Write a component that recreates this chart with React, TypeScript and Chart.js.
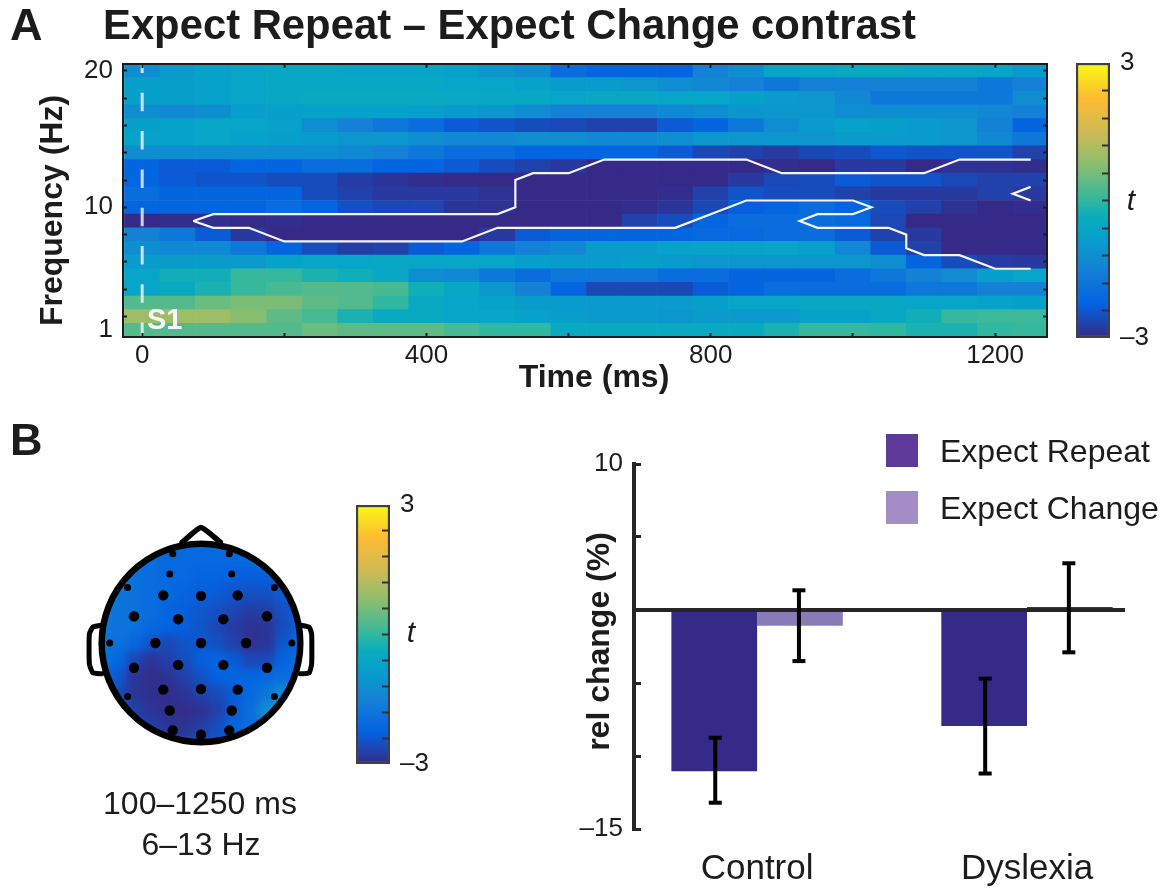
import React, { useEffect, useRef } from "react";
import { Chart, registerables } from "chart.js";

Chart.register(...registerables);

// ---------- Panel A data ----------
const timeBins = [0, 50, 100, 150, 200, 250, 300, 350, 400, 450, 500, 550, 600, 650, 700, 750, 800, 850, 900, 950, 1000, 1050, 1100, 1150, 1200, 1250];
const hz20 = [-1.2, -0.9, -0.75, -0.65, -0.55, -0.55, -0.65, -0.65, -0.65, -0.75, -1.0, -1.2, -2.0, -2.2, -2.2, -2.2, -1.5, -1.2, -0.65, -0.55, -0.45, -0.45, -0.55, -0.55, -0.65, -0.9];
const hz19 = [-0.8, -0.8, -0.75, -0.65, -0.55, -0.55, -0.55, -0.55, -0.55, -0.65, -0.65, -0.75, -0.9, -0.9, -1.0, -1.2, -1.35, -1.5, -1.75, -1.5, -1.5, -1.5, -1.5, -1.5, -1.75, -1.5];
const hz18 = [-0.8, -0.8, -0.75, -0.65, -0.55, -0.45, -0.45, -0.45, -0.45, -0.45, -0.55, -0.55, -0.65, -0.55, -0.55, -0.65, -0.65, -0.8, -0.9, -1.0, -1.35, -1.75, -1.75, -1.75, -1.75, -1.2];
const hz17 = [-1.2, -1.35, -1.2, -0.8, -0.8, -0.75, -0.75, -0.75, -0.8, -0.9, -1.0, -1.2, -1.5, -1.5, -1.5, -1.35, -1.2, -1.0, -1.0, -1.0, -1.2, -1.2, -1.2, -1.2, -1.35, -1.5];
const hz16 = [-0.8, -0.75, -0.65, -0.65, -0.75, -1.2, -1.5, -1.75, -2.0, -2.35, -2.45, -2.55, -2.6, -2.7, -2.7, -2.35, -2.2, -1.75, -1.2, -0.9, -0.75, -0.8, -0.9, -1.0, -1.5, -2.2];
const hz15 = [-0.75, -0.75, -0.65, -0.75, -0.8, -0.9, -1.0, -1.0, -1.2, -1.35, -1.35, -1.2, -1.2, -1.35, -1.35, -1.2, -1.0, -1.0, -1.0, -1.0, -0.9, -0.9, -0.9, -1.0, -1.35, -1.75];
const hz14 = [-1.2, -1.2, -1.2, -1.2, -1.2, -1.2, -1.35, -1.5, -1.75, -2.0, -2.0, -2.2, -2.2, -2.2, -2.2, -2.35, -2.6, -2.7, -2.8, -2.6, -2.55, -2.4, -2.45, -2.45, -2.45, -2.7];
const hz13 = [-2.2, -2.35, -2.35, -2.2, -2.2, -2.0, -2.0, -2.2, -2.2, -2.35, -2.55, -2.7, -2.8, -3, -3, -3, -3, -3, -2.95, -3, -2.8, -2.8, -3, -2.9, -2.9, -2.95];
const hz12 = [-2.2, -2.35, -2.45, -2.45, -2.55, -2.55, -2.75, -2.85, -2.95, -3, -3, -3, -3, -3, -3, -3, -3, -2.8, -2.6, -2.55, -2.35, -2.45, -2.45, -2.6, -2.7, -2.7];
const hz11 = [-2.0, -2.2, -2.2, -2.2, -2.2, -2.55, -2.7, -2.8, -2.8, -2.8, -2.9, -3, -3, -3, -3, -2.95, -2.7, -2.45, -2.55, -2.55, -2.7, -2.8, -2.8, -2.8, -2.7, -2.8];
const hz10 = [-2.2, -2.2, -2.2, -2.2, -2.0, -2.2, -2.5, -2.6, -2.65, -2.85, -2.9, -3, -3, -3, -2.95, -2.85, -2.6, -2.3, -2.2, -2.0, -2.2, -2.55, -2.7, -2.9, -3, -2.95];
const hz9 = [-3, -2.95, -2.95, -3, -2.95, -3, -3, -3, -3, -3, -3, -3, -3, -3, -2.7, -2.55, -2.2, -2.0, -2.0, -2.0, -2.1, -2.6, -3, -3, -3, -3];
const hz8 = [-1.5, -1.75, -2.35, -2.8, -3, -3, -3, -3, -3, -3, -2.8, -2.35, -2.2, -2.2, -2.2, -2.2, -2.1, -2.1, -2.0, -2.0, -2.35, -2.7, -2.8, -3, -3, -3];
const hz7 = [-1.2, -1.35, -1.35, -1.75, -2.2, -2.55, -2.75, -2.7, -2.35, -2.2, -1.75, -1.5, -1.35, -0.9, -0.9, -0.75, -0.7, -0.7, -0.65, -0.8, -1.35, -2.35, -2.7, -3, -3, -3];
const hz6 = [-0.9, -0.9, -0.9, -0.9, -0.75, -0.65, -0.65, -0.55, -0.65, -0.65, -0.65, -0.8, -0.9, -0.9, -0.8, -0.9, -1.0, -1.0, -1.0, -1.0, -1.0, -1.2, -2.2, -2.55, -2.75, -2.8];
const hz5 = [-0.65, -0.3, -0.3, 0.05, 0.05, -0.2, -0.3, -0.55, -1.2, -1.35, -1.75, -2.0, -1.75, -1.75, -1.75, -2.0, -2.0, -2.2, -2.2, -2.2, -2.0, -1.75, -1.5, -1.2, -0.8, -0.65];
const hz4 = [-0.65, -0.45, -0.2, 0.05, 0.2, 0.3, 0.3, 0.2, -0.3, -0.55, -1.0, -1.5, -2.2, -2.6, -2.6, -2.6, -2.35, -2.2, -2.0, -2.0, -2.0, -2.0, -1.75, -1.75, -1.5, -1.5];
const hz3 = [0.3, 0.3, 0.5, 0.65, 0.65, 0.4, 0.3, 0, -0.45, -0.65, -0.75, -0.9, -0.9, -0.9, -0.9, -0.9, -0.8, -0.65, -0.65, -0.55, -0.55, -0.55, -0.65, -0.65, -0.75, -0.8];
const hz2 = [1.0, 1.0, 1.0, 0.75, 0.4, 0.2, -0.2, -0.45, -0.45, -0.65, -0.65, -0.75, -0.8, -0.9, -0.9, -1.0, -0.9, -0.9, -0.9, -0.75, -0.75, -0.55, -0.3, 0.05, 0.1, 0.1];
const hz1 = [0.3, 0.3, 0.3, 0.3, 0.3, 0.5, 0.4, 0.4, 0.4, 0.2, 0, 0, -0.45, -0.45, -0.45, -0.45, -0.45, -0.45, -0.2, 0.05, 0.05, 0, -0.2, -0.2, 0, 0.05];
const heatRows = [hz1, hz2, hz3, hz4, hz5, hz6, hz7, hz8, hz9, hz10, hz11, hz12, hz13, hz14, hz15, hz16, hz17, hz18, hz19, hz20];

const contourUpperT = [72, 100, 500, 525, 525, 550, 600, 650, 850, 900, 1100, 1150, 1250];
const contourUpperF = [9, 9.5, 9.5, 10, 12, 12.5, 12.5, 13.5, 13.5, 12.5, 12.5, 13.5, 13.5];
const contourLowerT = [72, 100, 150, 200, 450, 500, 750, 850, 1000, 1026, 1000, 950, 925, 950, 1050, 1075, 1075, 1100, 1150, 1200, 1250];
const contourLowerF = [9, 8.5, 8.5, 7.5, 7.5, 8.5, 8.5, 10.5, 10.5, 10, 9.5, 9.5, 9, 8.5, 8.5, 8, 7, 6.5, 6.5, 5.5, 5.5];
const contourSmallT = [1250, 1225, 1250];
const contourSmallF = [11.5, 11, 10.5];

const timeTicks = [0, 200, 400, 600, 800, 1000, 1200];
const timeLabels = [0, 400, 800, 1200];
const freqTicks = [1, 2, 4, 6, 8, 10, 12, 14, 16, 18, 20];
const freqLabels = [1, 10, 20];
const barTicks = [-3, -2.4, -1.8, -1.2, -0.6, 0, 0.6, 1.2, 1.8, 2.4, 3];

// ---------- Panel B topography data ----------
const topoAxis = [-1, -0.833, -0.667, -0.5, -0.333, -0.167, 0, 0.167, 0.333, 0.5, 0.667, 0.833, 1];
const topoY1 = [-2.1, -2.1, -2.1, -2.1, -2.1, -2.1, -2.1, -2.1, -2.1, -2.1, -2.1, -2.1, -2.1];
const topoY2 = [-2.0, -2.0, -2.0, -2.0, -2.1, -2.1, -2.1, -2.1, -2.1, -2.1, -2.1, -2.1, -2.1];
const topoY3 = [-1.9, -1.9, -1.9, -2.0, -2.1, -2.1, -2.2, -2.2, -2.3, -2.3, -2.3, -2.2, -2.1];
const topoY4 = [-1.8, -1.8, -1.9, -2.0, -2.1, -2.2, -2.3, -2.35, -2.45, -2.5, -2.5, -2.35, -2.2];
const topoY5 = [-1.8, -1.8, -1.9, -2.0, -2.2, -2.3, -2.4, -2.5, -2.65, -2.75, -2.7, -2.5, -2.2];
const topoY6 = [-1.8, -1.8, -1.9, -2.1, -2.25, -2.3, -2.45, -2.6, -2.75, -2.9, -2.85, -2.55, -2.2];
const topoY7 = [-1.8, -1.9, -2.15, -2.45, -2.6, -2.45, -2.4, -2.5, -2.7, -2.9, -2.85, -2.4, -2.1];
const topoY8 = [-1.9, -2.15, -2.6, -2.85, -2.7, -2.55, -2.3, -2.2, -2.35, -2.6, -2.6, -2.2, -2.0];
const topoY9 = [-2.0, -2.4, -2.85, -2.95, -2.9, -2.7, -2.5, -2.25, -2.2, -2.2, -2.1, -2.0, -1.9];
const topoY10 = [-2.1, -2.55, -2.85, -2.95, -2.95, -2.85, -2.7, -2.55, -2.35, -2.1, -1.8, -1.3, -1.2];
const topoY11 = [-2.2, -2.55, -2.7, -2.85, -2.95, -2.95, -2.9, -2.7, -2.35, -2.0, -1.2, -0.8, -0.8];
const topoY12 = [-2.2, -2.4, -2.6, -2.75, -2.85, -2.9, -2.75, -2.55, -2.2, -2.0, -1.5, -1.0, -1.0];
const topoY13 = [-2.2, -2.35, -2.5, -2.6, -2.7, -2.7, -2.6, -2.4, -2.2, -2.0, -1.8, -1.5, -1.4];
const topoRows = [topoY1, topoY2, topoY3, topoY4, topoY5, topoY6, topoY7, topoY8, topoY9, topoY10, topoY11, topoY12, topoY13];

const electrodesLargeX = [-0.38, 0, 0.37, -0.675, -0.23, 0.225, 0.665, -0.46, 0, 0.455, -0.675, -0.23, 0.225, 0.665, -0.38, 0, 0.37, -0.315, 0.31, -0.285, 0, 0.285];
const electrodesLargeY = [0.48, 0.475, 0.48, 0.27, 0.24, 0.24, 0.27, 0, 0, 0, -0.25, -0.22, -0.22, -0.25, -0.47, -0.465, -0.47, -0.68, -0.68, -0.88, -0.925, -0.88];
const electrodesSmallX = [-0.285, 0.285, -0.315, 0.31, -0.74, 0.74, -0.92, 0.915, -0.74, 0.74];
const electrodesSmallY = [0.9, 0.9, 0.695, 0.695, 0.56, 0.56, 0, 0, -0.54, -0.54];
const noseX = [-0.19, 0, 0.195];
const noseY = [1.015, 1.165, 1.015];
const earLeftX = [-1.0, -1.09, -1.125, -1.125, -1.09, -1.0];
const earRightX = [1.0, 1.09, 1.115, 1.115, 1.09, 1.0];
const earY = [0.18, 0.16, 0.09, -0.21, -0.3, -0.31];

// ---------- Panel B bars data ----------
const groups = ["Control", "Dyslexia"];
const groupPositions = [1, 2];
const expectRepeat = [-11.05, -7.95];
const expectChange = [-1.08, 0.2];
const repeatErrLow = [-13.2, -11.2];
const repeatErrHigh = [-8.75, -4.7];
const changeErrLow = [-3.5, -2.9];
const changeErrHigh = [1.35, 3.2];
const relTicks = [-15, -10, -5, 0, 5, 10];
const relLabels = [-15, 10];

// ---------- Styling ----------
const FONT = "'Liberation Sans', Arial, sans-serif";
const INK = "#1c1c1c";
const PARULA: number[][] = [
  [0, 53, 42, 135], [0.125, 3, 99, 225], [0.25, 20, 129, 214], [0.375, 6, 162, 202], [0.44, 10, 172, 190],
  [0.5, 48, 184, 160], [0.625, 135, 190, 112], [0.75, 208, 186, 85], [0.875, 253, 188, 48], [1, 249, 251, 21],
];

function tColor(t: number) {
  const f = Math.max(0, Math.min(1, (t + 3) / 6));
  for (let i = 1; i < PARULA.length; i++) {
    if (f <= PARULA[i][0]) {
      const a = PARULA[i - 1], b = PARULA[i];
      const k = (f - a[0]) / (b[0] - a[0]);
      return `rgb(${a[1] + (b[1] - a[1]) * k},${a[2] + (b[2] - a[2]) * k},${a[3] + (b[3] - a[3]) * k})`;
    }
  }
  return "rgb(249,251,21)";
}

function zip(xs: number[], ys: number[]) {
  return xs.map((x, i) => ({ x, y: ys[i] }));
}

function setTicks(values: number[]) {
  return (axis: any) => {
    axis.ticks = values.map((value) => ({ value }));
  };
}

function fixSize(size: number, dx = 0, dy = 0) {
  return (scale: any) => {
    if (scale.isHorizontal()) scale.height = size;
    else scale.width = size;
    scale.paddingTop = scale.paddingBottom = scale.paddingLeft = scale.paddingRight = 0;
    if ((dx || dy) && !scale._shifted) {
      scale._shifted = true;
      const orig = scale.drawTitle.bind(scale);
      scale.drawTitle = () => {
        scale.ctx.save();
        scale.ctx.translate(dx, dy);
        orig();
        scale.ctx.restore();
      };
    }
  };
}

function colorbarConfig(topPad: number): any {
  return {
    type: "bar",
    data: {
      labels: ["t"],
      datasets: [
        {
          data: [[-3, 3]],
          barPercentage: 1,
          categoryPercentage: 1,
          borderSkipped: false,
          borderWidth: 2.5,
          borderColor: "#404040",
          backgroundColor: (c: any) => {
            const area = c.chart.chartArea;
            if (!area) return "#888";
            const g = c.chart.ctx.createLinearGradient(0, area.bottom, 0, area.top);
            PARULA.forEach((s) => g.addColorStop(s[0], `rgb(${s[1]},${s[2]},${s[3]})`));
            return g;
          },
        },
      ],
    },
    options: {
      responsive: false,
      animation: false,
      events: [],
      layout: { autoPadding: false, padding: { left: 0, top: topPad, bottom: topPad, right: 0 } },
      plugins: { legend: { display: false }, title: { display: false }, tooltip: { enabled: false } },
      scales: {
        x: { display: false },
        y: {
          position: "right",
          min: -3,
          max: 3,
          afterBuildTicks: setTicks(barTicks),
          afterFit: fixSize(50),
          border: { display: false },
          grid: {
            drawOnChartArea: false,
            tickLength: -8,
            tickWidth: 2,
            tickColor: (c: any) => (c.tick && Math.abs(c.tick.value) === 3 ? "rgba(0,0,0,0)" : "#333"),
            z: 1,
          },
          ticks: {
            padding: 18,
            color: INK,
            font: { family: FONT, size: 26 },
            autoSkip: false,
            maxRotation: 0,
            callback: (v: number) => (Math.abs(v - 3) < 1e-6 ? "3" : Math.abs(v + 3) < 1e-6 ? "–3" : ""),
          },
        },
      },
    },
  };
}

function heatConfig(): any {
  const cells: any[] = heatRows.map((row, r) => ({
    type: "bar",
    order: 2,
    grouped: false,
    barPercentage: 1,
    categoryPercentage: 1,
    borderWidth: 0,
    data: row.map((_, i) => ({ x: timeBins[i], y: [r + 0.5, r + 1.5] })),
    backgroundColor: row.map((v) => tColor(v)),
  }));
  const line = (xs: number[], ys: number[]) => ({
    type: "line",
    order: 1,
    data: zip(xs, ys),
    borderColor: "#f4f6fb",
    borderWidth: 2.2,
    pointRadius: 0,
    tension: 0,
    fill: false,
  });
  return {
    type: "bar",
    data: {
      datasets: [
        ...cells,
        line(contourUpperT, contourUpperF),
        line(contourLowerT, contourLowerF),
        line(contourSmallT, contourSmallF),
        {
          type: "line",
          order: 0,
          data: [{ x: 0, y: 20.5 }, { x: 0, y: 0.5 }],
          borderColor: "rgba(235,240,245,0.85)",
          borderWidth: 3,
          borderDash: [18.5, 19.8],
          borderDashOffset: 9.5,
          pointRadius: 0,
        },
      ],
    },
    plugins: [
      {
        id: "titlePlace",
        afterLayout(chart: any) {
          chart.titleBlock.left = 103;
        },
      },
    ],
    options: {
      responsive: false,
      animation: false,
      events: [],
      layout: { autoPadding: false, padding: { left: 0, right: 128, top: 0, bottom: 0 } },
      plugins: {
        legend: { display: false },
        tooltip: { enabled: false },
        title: {
          display: true,
          text: "Expect Repeat – Expect Change contrast",
          align: "start",
          color: INK,
          font: { family: FONT, size: 41.8, weight: "bold", lineHeight: 1 },
          padding: { top: 7, bottom: 15.2 },
        },
      },
      scales: {
        x: {
          type: "linear",
          offset: false,
          min: -27,
          max: 1273,
          afterBuildTicks: setTicks(timeTicks),
          afterFit: fixSize(60, 9, 0),
          border: { color: INK, width: 2, z: 2 },
          grid: { offset: false, drawOnChartArea: false, tickLength: -4, tickWidth: 2, tickColor: INK, z: 1 },
          ticks: {
            padding: 7,
            color: INK,
            font: { family: FONT, size: 26 },
            autoSkip: false,
            maxRotation: 0,
            callback: (v: number) => (timeLabels.includes(v) ? String(v) : ""),
          },
          title: {
            display: true,
            text: "Time (ms)",
            color: INK,
            font: { family: FONT, size: 32, weight: "bold", lineHeight: 1 },
            padding: { top: 0, bottom: 3 },
          },
        },
        xTop: {
          type: "linear",
          position: "top",
          offset: false,
          min: -27,
          max: 1273,
          afterBuildTicks: setTicks(timeTicks),
          afterFit: fixSize(0),
          border: { color: INK, width: 2, z: 2 },
          grid: { offset: false, drawOnChartArea: false, tickLength: -4, tickWidth: 2, tickColor: INK, z: 1 },
          ticks: { display: false },
        },
        y: {
          type: "linear",
          min: 0.5,
          max: 20.5,
          afterBuildTicks: setTicks(freqTicks),
          afterFit: fixSize(123, 0, 10),
          border: { color: INK, width: 2, z: 2 },
          grid: {
            drawOnChartArea: false,
            tickLength: -4,
            tickWidth: 2,
            tickColor: (c: any) => (c.tick && c.tick.value === 1 ? "rgba(0,0,0,0)" : INK),
            z: 1,
          },
          ticks: {
            padding: 14,
            color: INK,
            font: { family: FONT, size: 26 },
            autoSkip: false,
            maxRotation: 0,
            callback: (v: number) => (freqLabels.includes(v) ? String(v) : ""),
          },
          title: {
            display: true,
            text: "Frequency (Hz)",
            color: INK,
            font: { family: FONT, size: 32, weight: "bold", lineHeight: 1 },
            padding: { top: 37, bottom: 0 },
          },
        },
        yRight: {
          type: "linear",
          position: "right",
          min: 0.5,
          max: 20.5,
          afterBuildTicks: setTicks(freqTicks),
          afterFit: fixSize(0),
          border: { color: INK, width: 2, z: 2 },
          grid: {
            drawOnChartArea: false,
            tickLength: -4,
            tickWidth: 2,
            tickColor: (c: any) => (c.tick && c.tick.value === 1 ? "rgba(0,0,0,0)" : INK),
            z: 1,
          },
          ticks: { display: false },
        },
      },
    },
  };
}

function hiddenSquareScales(): any {
  return {
    x: { type: "linear", display: false, offset: false, grid: { offset: false }, min: -1.3, max: 1.3 },
    y: { type: "linear", display: false, offset: false, min: -1.3, max: 1.3 },
  };
}

function topoFieldConfig(): any {
  const step = 1 / 6;
  return {
    type: "bar",
    data: {
      datasets: topoRows.map((row, r) => {
        const yc = -topoAxis[r];
        return {
          grouped: false,
          barPercentage: 1,
          categoryPercentage: 1,
          borderWidth: 0,
          data: row.map((_, i) => ({ x: topoAxis[i], y: [yc - step / 2, yc + step / 2] })),
          backgroundColor: row.map((v) => tColor(v)),
        };
      }),
    },
    options: {
      responsive: false,
      animation: false,
      events: [],
      plugins: { legend: { display: false }, title: { display: false }, tooltip: { enabled: false } },
      scales: hiddenSquareScales(),
    },
  };
}

function topoHeadConfig(): any {
  const stroke = (xs: number[], ys: number[], w: number) => ({
    type: "line",
    data: zip(xs, ys),
    borderColor: "#000",
    borderWidth: w,
    borderJoinStyle: "round",
    borderCapStyle: "round",
    tension: 0.15,
    pointRadius: 0,
    clip: false,
  });
  return {
    type: "scatter",
    data: {
      datasets: [
        stroke(noseX, noseY, 5.5),
        stroke(earLeftX, earY, 5),
        stroke(earRightX, earY, 5),
        {
          data: [{ x: 0, y: 0 }],
          pointRadius: 99.3,
          pointBorderWidth: 6.5,
          pointBorderColor: "#000",
          pointBackgroundColor: "rgba(0,0,0,0)",
          clip: false,
        },
        { data: zip(electrodesLargeX, electrodesLargeY), pointRadius: 5.2, pointBackgroundColor: "#000", pointBorderWidth: 0 },
        { data: zip(electrodesSmallX, electrodesSmallY), pointRadius: 3.5, pointBackgroundColor: "#000", pointBorderWidth: 0 },
      ],
    },
    options: {
      responsive: false,
      animation: false,
      events: [],
      layout: { autoPadding: false },
      plugins: { legend: { display: false }, title: { display: false }, tooltip: { enabled: false } },
      scales: hiddenSquareScales(),
    },
  };
}

function barsConfig(): any {
  const xMin = 0.544;
  const xMax = 2.363;
  const errOffset = 0.155;
  const err = (lows: number[], highs: number[], sign: number, i: number) => ({
    type: "line",
    order: 0,
    data: [
      { x: groupPositions[i] + sign * errOffset, y: lows[i] },
      { x: groupPositions[i] + sign * errOffset, y: highs[i] },
    ],
    borderColor: "#000",
    borderWidth: 4,
    pointStyle: "line",
    pointRadius: 6.5,
    pointBorderWidth: 4,
    pointBorderColor: "#000",
    clip: false,
  });
  return {
    type: "bar",
    data: {
      datasets: [
        {
          label: "Expect Repeat",
          order: 2,
          data: zip(groupPositions, expectRepeat),
          backgroundColor: "#352a87",
          barPercentage: 1,
          categoryPercentage: 0.635,
        },
        {
          label: "Expect Change",
          order: 2,
          data: zip(groupPositions, expectChange),
          backgroundColor: ["#877cb8", "#3a2e8c"],
          barPercentage: 1,
          categoryPercentage: 0.635,
        },
        {
          type: "line",
          order: 1,
          data: [{ x: xMin, y: 0 }, { x: xMax, y: 0 }],
          borderColor: "#262626",
          borderWidth: 4,
          pointRadius: 0,
          clip: false,
        },
        err(repeatErrLow, repeatErrHigh, -1, 0),
        err(repeatErrLow, repeatErrHigh, -1, 1),
        err(changeErrLow, changeErrHigh, 1, 0),
        err(changeErrLow, changeErrHigh, 1, 1),
      ],
    },
    options: {
      responsive: false,
      animation: false,
      events: [],
      layout: { autoPadding: false, padding: { left: 0, right: 50, top: 24, bottom: 0 } },
      plugins: { legend: { display: false }, title: { display: false }, tooltip: { enabled: false } },
      scales: {
        x: {
          type: "linear",
          offset: false,
          min: xMin,
          max: xMax,
          afterBuildTicks: setTicks(groupPositions),
          afterFit: fixSize(60),
          border: { display: false },
          grid: { offset: false, display: false },
          ticks: {
            padding: 11,
            color: INK,
            font: { family: FONT, size: 35 },
            autoSkip: false,
            maxRotation: 0,
            callback: (v: number) => groups[groupPositions.indexOf(v)] ?? "",
          },
        },
        y: {
          type: "linear",
          min: -15,
          max: 10,
          afterBuildTicks: setTicks(relTicks),
          afterFit: fixSize(74, 0, -5),
          border: { color: "#262626", width: 4, z: 2 },
          grid: { drawOnChartArea: false, tickLength: -7, tickWidth: 3, tickColor: "#262626", z: 1 },
          ticks: {
            padding: 18,
            color: INK,
            font: { family: FONT, size: 26 },
            autoSkip: false,
            maxRotation: 0,
            callback: (v: number) => (relLabels.includes(v) ? String(v).replace("-", "–") : ""),
          },
          title: {
            display: true,
            text: "rel change (%)",
            color: INK,
            font: { family: FONT, size: 32, weight: "bold", lineHeight: 1 },
            padding: { top: 24, bottom: 0 },
          },
        },
      },
    },
  };
}

function useChart(config: () => any) {
  const ref = useRef<HTMLCanvasElement | null>(null);
  useEffect(() => {
    if (!ref.current) return;
    const chart = new Chart(ref.current, config());
    return () => chart.destroy();
  }, []);
  return ref;
}

const SOFT = "blur(0.6px)";

function Label(props: { x: number; y: number; size: number; bold?: boolean; italic?: boolean; color?: string; center?: boolean; children: React.ReactNode }) {
  const { x, y, size, bold, italic, color, center, children } = props;
  return (
    <div
      style={{
        position: "absolute",
        left: x,
        top: y,
        transform: center ? "translate(-50%,-50%)" : "translateY(-50%)",
        font: `${italic ? "italic " : ""}${bold ? "bold " : ""}${size}px ${FONT}`,
        color: color ?? INK,
        whiteSpace: "nowrap",
        filter: SOFT,
      }}
    >
      {children}
    </div>
  );
}

export default function App() {
  const heat = useChart(heatConfig);
  const cbA = useChart(() => colorbarConfig(12));
  const cbB = useChart(() => colorbarConfig(11));
  const field = useChart(topoFieldConfig);
  const head = useChart(topoHeadConfig);
  const bars = useChart(barsConfig);
  const abs = (left: number, top: number, extra: any = {}) => ({ position: "absolute", left, top, filter: SOFT, ...extra });
  return (
    <div style={{ position: "fixed", left: 0, top: 0, width: 1175, height: 888, background: "#fff", overflow: "hidden" }}>
      <canvas ref={heat} width={1175} height={397} style={abs(0, 0) as any} />
      <canvas ref={cbA} width={84} height={299} style={abs(1076, 51) as any} />
      <canvas ref={cbB} width={84} height={281} style={abs(356, 494) as any} />
      <div style={{ position: "absolute", left: 72, top: 514, width: 258, height: 258, clipPath: "circle(99px at 129px 129px)" }}>
        <canvas ref={field} width={258} height={258} style={{ filter: "blur(4px)" }} />
      </div>
      <canvas ref={head} width={258} height={258} style={abs(72, 514) as any} />
      <canvas ref={bars} width={615} height={449} style={abs(560, 440) as any} />

      <Label x={10} y={25} size={45} bold>A</Label>
      <Label x={10} y={440} size={45} bold>B</Label>
      <Label x={147} y={319} size={29} bold color="#f4f6fb">S1</Label>
      <Label x={1131} y={200} size={30} italic center>t</Label>
      <Label x={411} y={632} size={30} italic center>t</Label>
      <Label x={200} y={803} size={32} center>100–1250 ms</Label>
      <Label x={201} y={844} size={32} center>6–13 Hz</Label>

      <div style={abs(886, 434, { width: 32, height: 33, background: "#5e3a9b" })} />
      <div style={abs(886, 491, { width: 32, height: 33, background: "#a48cc6" })} />
      <Label x={940} y={451} size={32}>Expect Repeat</Label>
      <Label x={940} y={508} size={32}>Expect Change</Label>
    </div>
  );
}
